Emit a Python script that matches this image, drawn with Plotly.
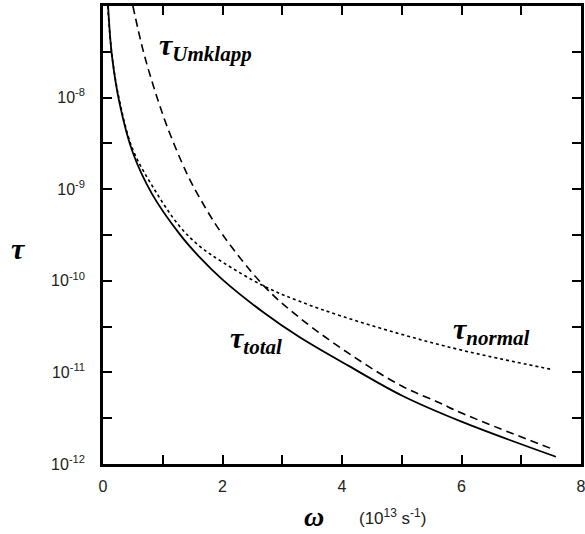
import plotly.graph_objects as go

# omega in 10^13 s^-1, tau in s
omega_normal = [0.08, 0.15, 0.28, 0.5, 0.85, 1.28, 1.62, 2.0, 2.7, 3.28, 4.0, 5.0, 6.0, 7.53]
tau_normal = [1.0e-7, 2.9e-8, 9.0e-9, 2.7e-9, 1.02e-9, 3.95e-10, 2.38e-10, 1.6e-10,
              8.7e-11, 6.0e-11, 4.1e-11, 2.6e-11, 1.75e-11, 1.07e-11]

omega_umklapp = [0.5, 0.67, 0.85, 1.07, 1.4, 1.62, 2.0, 2.7, 3.28, 4.12, 5.0, 5.62, 6.0, 7.53]
tau_umklapp = [1.0e-7, 3.3e-8, 1.3e-8, 4.9e-9, 1.5e-9, 8.0e-10, 3.2e-10, 8.7e-11, 4.0e-11,
               1.6e-11, 7.1e-12, 4.7e-12, 3.6e-12, 1.45e-12]

omega_total = [0.085, 0.15, 0.28, 0.5, 0.82, 1.28, 1.62, 2.0, 2.7, 3.28, 4.12, 5.0, 6.0, 7.58]
tau_total = [1.0e-7, 2.85e-8, 8.5e-9, 2.5e-9, 8.9e-10, 3.25e-10, 1.8e-10, 1.03e-10,
             4.45e-11, 2.45e-11, 1.17e-11, 5.6e-12, 2.9e-12, 1.2e-12]

x_tick_vals = [0, 1, 2, 3, 4, 5, 6, 7, 8]
x_tick_text = ["0", "", "2", "", "4", "", "6", "", "8"]
y_tick_vals = [1e-12, 10**-11.5, 1e-11, 10**-10.5, 1e-10, 10**-9.5, 1e-9, 10**-8.5, 1e-8, 10**-7.5, 1e-7]
y_tick_text = ["10<sup>-12</sup>", "", "10<sup>-11</sup>", "", "10<sup>-10</sup>", "",
               "10<sup>-9</sup>", "", "10<sup>-8</sup>", "", ""]

fig = go.Figure()
fig.add_trace(go.Scatter(x=omega_normal, y=tau_normal, mode="lines",
                         line=dict(color="black", width=1.6, dash="dot", shape="spline")))
fig.add_trace(go.Scatter(x=omega_umklapp, y=tau_umklapp, mode="lines",
                         line=dict(color="black", width=1.6, dash="8px,5px", shape="spline")))
fig.add_trace(go.Scatter(x=omega_total, y=tau_total, mode="lines",
                         line=dict(color="black", width=1.8, shape="spline")))

L, R, T, B = 103, 4, 6, 70
W, H = 585, 534
PW, PH = W - L - R, H - T - B

serif = "Liberation Serif"
fig.update_layout(
    width=W, height=H,
    margin=dict(l=L, r=R, t=T, b=B, autoexpand=False),
    paper_bgcolor="white", plot_bgcolor="white",
    showlegend=False,
    font=dict(family="Liberation Sans, Arial", size=16, color="#222"),
    xaxis=dict(range=[0, 8], tickvals=x_tick_vals, ticktext=x_tick_text,
               ticks="inside", ticklen=9, tickwidth=1.5, tickcolor="black",
               showline=True, linecolor="black", linewidth=2.5, mirror="allticks",
               showgrid=False, zeroline=False, ticklabelstandoff=6, automargin=False,
               ticklabeloverflow="allow"),
    yaxis=dict(type="log", range=[-12, -7], tickvals=y_tick_vals, ticktext=y_tick_text,
               ticks="inside", ticklen=9, tickwidth=1.5, tickcolor="black",
               showline=True, linecolor="black", linewidth=2.5, mirror="allticks",
               showgrid=False, zeroline=False, ticklabelstandoff=12, automargin=False),
)


def px(xp, yp):
    return (xp - L) / PW, (H - B - yp) / PH


ann = [
    dict(x=205, y=47, text="<b><i>τ<sub>Umklapp</sub></i></b>", size=30),
    dict(x=256, y=340, text="<b><i>τ<sub>total</sub></i></b>", size=30),
    dict(x=491, y=331, text="<b><i>τ<sub>normal</sub></i></b>", size=30),
    dict(x=18, y=248, text="<b><i>τ</i></b>", size=30),
    dict(x=314, y=516, text="<b><i>ω</i></b>", size=28),
]
for a in ann:
    xx, yy = px(a["x"], a["y"])
    fig.add_annotation(x=xx, y=yy, xref="paper", yref="paper",
                       text=a["text"], showarrow=False, xanchor="center", yanchor="middle",
                       font=dict(family=serif, size=a["size"], color="black"))
xx, yy = px(392, 517)
fig.add_annotation(x=xx, y=yy, xref="paper", yref="paper",
                   text="(10<sup>13</sup> s<sup>-1</sup>)", showarrow=False,
                   xanchor="center", yanchor="middle",
                   font=dict(family="Liberation Sans, Arial", size=17, color="#222"))

fig.write_html("out.html", config={"displayModeBar": False},
               post_script="document.body.style.margin='0';")
